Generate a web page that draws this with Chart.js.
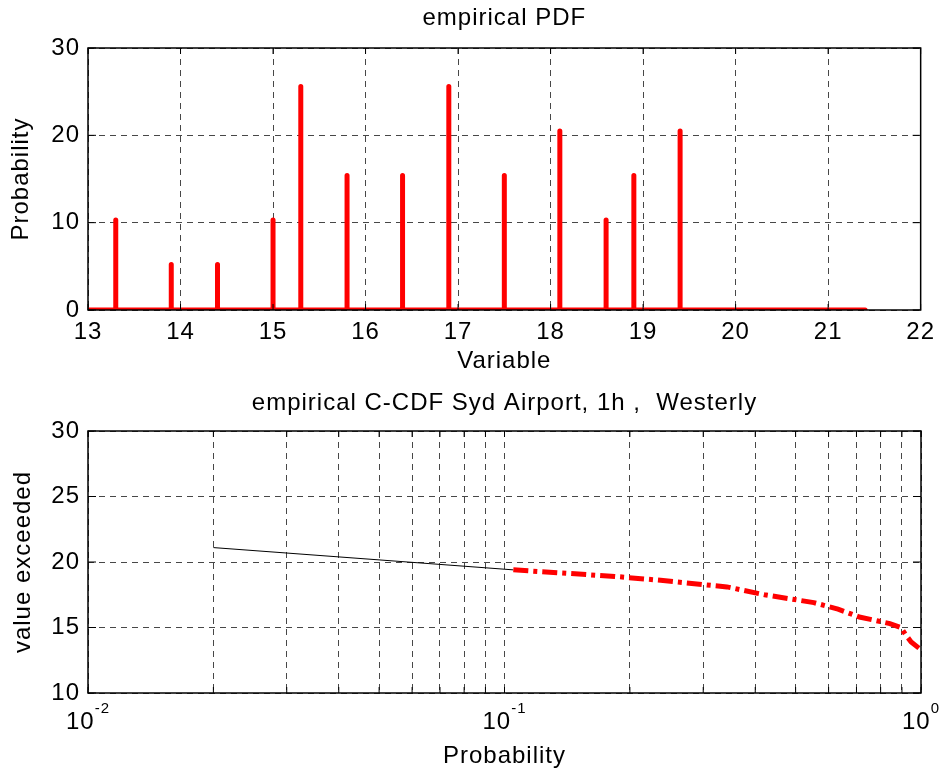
<!DOCTYPE html>
<html>
<head>
<meta charset="utf-8">
<script src="https://cdn.jsdelivr.net/npm/chart.js@4"></script>
<style>
  html, body { margin: 0; padding: 0; background: #fff; }
  #wrap { position: relative; width: 943px; height: 774px; }
  canvas { position: absolute; left: 0; }
  #pdfChart { top: 0; }
  #ccdfChart { top: 385px; }
</style>
</head>
<body>
<div id="wrap">
  <canvas id="pdfChart" width="943" height="385"></canvas>
  <canvas id="ccdfChart" width="943" height="389"></canvas>
</div>
<script>
// empirical PDF (stems)
const pdfX = [13.3, 13.9, 14.4, 15.0, 15.3, 15.8, 16.4, 16.9, 17.5, 18.1, 18.6, 18.9, 19.4];
const pdfY = [10.3, 5.2, 5.2, 10.3, 25.6, 15.4, 15.4, 25.6, 15.4, 20.5, 10.3, 15.4, 20.5];
const pdfStart = 13;
const pdfEnd = 21.4;
const pdfTicksY = [0, 10, 20, 30];

// empirical C-CDF
const ccdfP = [0.105, 0.184, 0.237, 0.342, 0.421, 0.553, 0.632, 0.711, 0.842, 0.895, 0.921, 0.947, 1.0];
const ccdfV = [19.4, 18.9, 18.6, 18.1, 17.5, 16.9, 16.4, 15.8, 15.3, 15.0, 14.4, 13.9, 13.3];
const fitP = [0.02, 0.105];
const fitV = [21.1, 19.4];
const logTicks = [0.01, 0.02, 0.03, 0.04, 0.05, 0.06, 0.07, 0.08, 0.09,
                  0.1, 0.2, 0.3, 0.4, 0.5, 0.6, 0.7, 0.8, 0.9, 1];
const logLabels = [[0.01, '-2'], [0.1, '-1'], [1, '0']];

const FONT = "'Liberation Sans', Arial, Helvetica, sans-serif";
const gridStyle = { color: 'rgba(0,0,0,0.72)', lineWidth: 1, drawTicks: false };
const borderStyle = { display: false, dash: [6, 5] };

// stem path: baseline with spikes up at each x
const stemPts = [{ x: pdfStart, y: 0 }];
pdfX.forEach((x, i) => {
  stemPts.push({ x, y: 0 }, { x, y: pdfY[i] }, { x, y: 0 });
});
stemPts.push({ x: pdfEnd, y: 0 });

// matlab text is a bit wider than Liberation Sans
const spacingPlugin = {
  id: 'spacing',
  beforeLayout(chart) { chart.ctx.letterSpacing = '1px'; },
  beforeDraw(chart) { chart.ctx.letterSpacing = '1px'; }
};

// MATLAB style box with inward ticks
const boxPlugin = {
  id: 'box',
  afterDraw(chart) {
    const { ctx, chartArea: a, scales } = chart;
    ctx.save();
    ctx.strokeStyle = '#000';
    ctx.lineWidth = 1.5;
    ctx.strokeRect(a.left, a.top, a.right - a.left, a.bottom - a.top);
    ctx.lineWidth = 1;
    ctx.beginPath();
    scales.x.ticks.forEach(t => {
      const px = scales.x.getPixelForValue(t.value);
      ctx.moveTo(px, a.bottom); ctx.lineTo(px, a.bottom - 6);
      ctx.moveTo(px, a.top); ctx.lineTo(px, a.top + 6);
    });
    scales.y.ticks.forEach(t => {
      const py = scales.y.getPixelForValue(t.value);
      ctx.moveTo(a.left, py); ctx.lineTo(a.left + 8, py);
      ctx.moveTo(a.right, py); ctx.lineTo(a.right - 8, py);
    });
    ctx.stroke();
    ctx.restore();
  }
};

// 10^n labels for the log axis
const logLabelPlugin = {
  id: 'logLabels',
  afterDraw(chart) {
    const { ctx, chartArea: a, scales } = chart;
    ctx.save();
    ctx.fillStyle = '#000';
    ctx.textBaseline = 'alphabetic';
    ctx.textAlign = 'left';
    logLabels.forEach(([v, ex]) => {
      const px = scales.x.getPixelForValue(v);
      ctx.font = '24px ' + FONT;
      const w1 = ctx.measureText('10').width;
      ctx.font = '15px ' + FONT;
      const w2 = ctx.measureText(ex).width;
      const x0 = px - (w1 + w2) / 2;
      ctx.font = '24px ' + FONT;
      ctx.fillText('10', x0, a.bottom + 36);
      ctx.font = '15px ' + FONT;
      ctx.fillText(ex, x0 + w1, a.bottom + 20);
    });
    ctx.restore();
  }
};

Chart.defaults.font.family = FONT;
Chart.defaults.color = '#000';

new Chart(document.getElementById('pdfChart'), {
  type: 'line',
  data: {
    datasets: [
      { data: stemPts, borderColor: '#ff0000', borderWidth: 5, pointRadius: 0,
        borderCapStyle: 'round', borderJoinStyle: 'round', tension: 0 },
      { data: stemPts, borderColor: '#1a1a9a', borderWidth: 2, pointRadius: 0, tension: 0 }
    ]
  },
  options: {
    responsive: false,
    animation: false,
    layout: { padding: { left: 0, right: 22, top: 0, bottom: 0 } },
    plugins: {
      legend: { display: false },
      tooltip: { enabled: false },
      title: { display: true, fullSize: false, text: 'empirical PDF', font: { size: 24, weight: 'normal' },
               padding: { top: 4, bottom: 15.2 } }
    },
    scales: {
      x: {
        type: 'linear', min: 13, max: 22,
        ticks: { stepSize: 1, padding: 8, font: { size: 24 }, maxRotation: 0 },
        grid: { ...gridStyle },
        border: { ...borderStyle },
        title: { display: true, text: 'Variable', font: { size: 24 }, padding: { top: 0, bottom: 9 } },
        afterFit: s => { s.height = 75; }
      },
      y: {
        min: 0, max: 30,
        afterBuildTicks: s => { s.ticks = pdfTicksY.map(v => ({ value: v })); },
        ticks: { padding: 8, font: { size: 24 } },
        grid: { ...gridStyle },
        border: { ...borderStyle },
        title: { display: true, text: 'Probability', font: { size: 24 }, padding: { top: 7 } },
        afterFit: s => { s.width = 88; }
      }
    }
  },
  plugins: [spacingPlugin, boxPlugin]
});

new Chart(document.getElementById('ccdfChart'), {
  type: 'line',
  data: {
    datasets: [
      { data: ccdfP.map((p, i) => ({ x: p, y: ccdfV[i] })), borderColor: '#ff0000', borderWidth: 5,
        borderDash: [15, 5, 4, 5], pointRadius: 0, tension: 0 },
      { data: fitP.map((p, i) => ({ x: p, y: fitV[i] })), borderColor: '#000', borderWidth: 1,
        pointRadius: 0, tension: 0 }
    ]
  },
  options: {
    responsive: false,
    animation: false,
    layout: { padding: { left: 0, right: 22, top: 0, bottom: 0 } },
    plugins: {
      legend: { display: false },
      tooltip: { enabled: false },
      title: { display: true, fullSize: false, text: 'empirical C-CDF Syd Airport, 1h ,  Westerly',
               font: { size: 24, weight: 'normal' }, padding: { top: 4, bottom: 13.2 } }
    },
    scales: {
      x: {
        type: 'logarithmic', min: 0.01, max: 1,
        afterBuildTicks: s => { s.ticks = logTicks.map(v => ({ value: v })); },
        ticks: { display: false, autoSkip: false },
        grid: { ...gridStyle },
        border: { ...borderStyle },
        title: { display: true, text: 'Probability', font: { size: 24 }, padding: { top: 0, bottom: 3 } },
        afterFit: s => { s.height = 81; }
      },
      y: {
        min: 10, max: 30,
        ticks: { stepSize: 5, padding: 8, font: { size: 24 } },
        grid: { ...gridStyle },
        border: { ...borderStyle },
        title: { display: true, text: 'value exceeded', font: { size: 24 }, padding: { top: 9 } },
        afterFit: s => { s.width = 88; }
      }
    }
  },
  plugins: [spacingPlugin, boxPlugin, logLabelPlugin]
});
</script>
</body>
</html>
